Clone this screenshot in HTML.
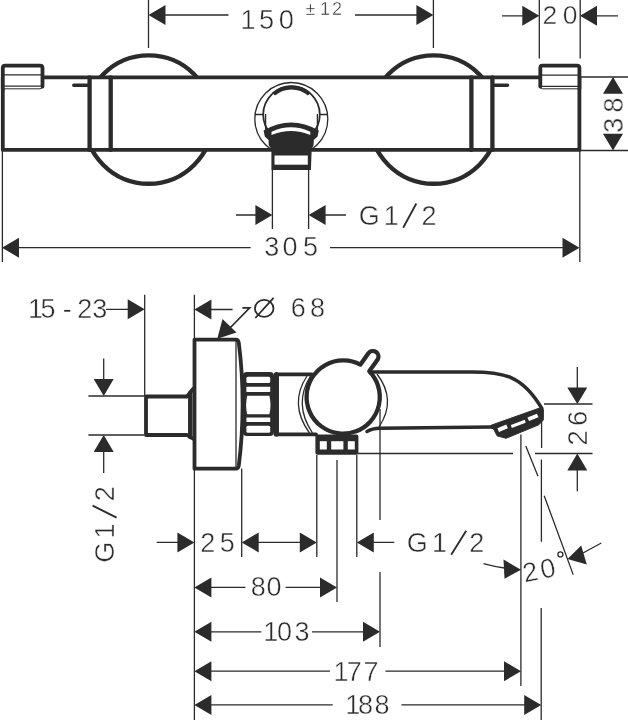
<!DOCTYPE html>
<html><head><meta charset="utf-8">
<style>
html,body{margin:0;padding:0;background:#fff;}
body{width:628px;height:720px;overflow:hidden;font-family:"Liberation Sans",sans-serif;}
svg{display:block;}
text{font-family:"Liberation Sans",sans-serif;fill:#2b2b2b;stroke:#fff;stroke-width:.45;}
.t{stroke:#2b2b2b;stroke-width:1.3;fill:none;}
.k{stroke:#2b2b2b;stroke-width:3.8;fill:none;stroke-linejoin:round;stroke-linecap:round;}
.m{stroke:#2b2b2b;stroke-width:2;fill:none;stroke-linejoin:round;stroke-linecap:round;}
.a{fill:#2b2b2b;stroke:none;}
.w{fill:#fff;}
</style></head><body>
<svg width="628" height="720" viewBox="0 0 628 720">
<rect width="628" height="720" fill="#fff"/>

<!-- ================= TOP VIEW ================= -->
<g id="topview">
<!-- escutcheon circles -->
<circle class="k" cx="148.7" cy="119.6" r="64.2" style="stroke-width:4.4"/>
<circle class="k" cx="433.8" cy="119.6" r="64.2" style="stroke-width:4.4"/>
<!-- body -->
<rect class="k w" x="2.8" y="77.3" width="576.6" height="72.6"/>
<!-- knobs -->
<path class="k w" d="M2.8 89 V68 Q2.8 65.6 5.2 65.6 H40.1 Q42.5 65.6 42.5 68 V86.5"/>
<path class="t" style="stroke-width:1.3" d="M4 74.8 H41.5 M4 86.2 H41.5"/><path class="t" style="stroke-width:1" d="M4 88.8 H40 Q42.8 88.6 43.4 86"/>
<path class="k w" d="M540.3 86.5 V68 Q540.3 65.6 542.4 65.6 H577 Q579.4 65.6 579.4 68 V89"/>
<path class="t" style="stroke-width:1.3" d="M541 75.2 H578.5 M541 86.4 H578.5"/><path class="t" style="stroke-width:1" d="M578.5 88.8 H542.5 Q539.8 88.6 539.3 86"/>
<!-- dividers -->
<path class="k" style="stroke-width:4.3" d="M89.6 77.3 V149.9 M110.7 77.3 V149.9 M471.4 77.3 V149.9 M492.4 77.3 V149.9"/>
<path class="k" style="stroke-width:3.5" d="M73.8 85.2 H89 M493 85.2 H507.5"/>
</g>

<!-- hose connector -->
<g id="hose">
<circle class="t" cx="291.3" cy="119" r="36.5" fill="#fff"/>
<circle class="m" cx="291.5" cy="114.6" r="28.3" style="stroke-width:1.8"/>
<path class="t" d="M254.8 114.5 H263.5 M319.5 114.5 H327.8 M265.6 114 V130 M317.4 114 V130"/>
<path d="M273.6 94 A27.3 27.3 0 0 1 309.4 94" style="stroke:#2b2b2b;stroke-width:4.2;fill:none"/>
<path class="a" d="M263.6 130.5 Q291 114.5 318.8 130.5 L317.6 136.6 L313.8 140 L313.6 145 L311.7 149 L310.9 170 L271.4 170 L271.4 149 L268.7 145 L268.6 140 L264.8 136.6 Z"/>
<path class="w" d="M271.5 131.7 Q291 122.8 310.3 131.7 L310.3 135 Q291 126.8 271.5 135 Z"/>
<rect class="w" x="274.5" y="155.5" width="33.3" height="9.2"/>
</g>

<!-- top view dimension lines -->
<g id="topdims">
<path class="t" d="M148.5 0 V48 M433.4 0 V48 M539.3 0 V58.5 M580.2 0 V58.5"/>
<path class="t" d="M165 15 H228.5 M355 15 H417"/>
<path class="a" d="M148.5 15 L165.5 5 L165.5 25 Z M433.4 15 L416.4 5 L416.4 25 Z"/>
<path class="t" d="M502 15.8 H523 M597 15.8 H618"/>
<path class="a" d="M539.3 15.8 L522.3 5.8 L522.3 25.8 Z M580 15.8 L597 5.8 L597 25.8 Z"/>
<path class="t" d="M580 77 H628 M580 150.5 H628"/>
<path class="a" d="M613 77 L603 93.8 L623 93.8 Z M613 150.5 L603 133.7 L623 133.7 Z"/>
<path class="t" d="M2.4 150 V262 M579.8 150 V262"/>
<path class="t" d="M272.4 170 V229 M308.6 170 V229"/>
<path class="t" d="M236 215 H257 M325 215 H346"/>
<path class="a" d="M272.4 215 L255.4 205 L255.4 225 Z M308.6 215 L325.6 205 L325.6 225 Z"/>
<path class="t" d="M18 247.7 H250.6 M330 247.7 H564"/>
<path class="a" d="M2 247.7 L19 237.7 L19 257.7 Z M579.5 247.7 L562.5 237.7 L562.5 257.7 Z"/>
</g>

<!-- top view text -->
<g id="toptext" opacity="0.999">
<text x="240.4 259.0 278.7" y="28.7" font-size="27.2">150</text>
<text x="305.6 320.1 331.9" y="14.9" font-size="18.0">±12</text>
<text x="542.5 562.7" y="24.0" font-size="26.5">20</text>
<text transform="translate(622.8 0) rotate(-90)" x="-132.9 -112.7" y="0.0" font-size="27.6">38</text>
<text x="358.7 383.8 421.4" y="224.7" font-size="27.0">G12</text>
<path d="M403.2 227.7 L416.3 203.5" style="stroke:#2b2b2b;stroke-width:1.8;fill:none"/>
<text x="264.2 282.6 303.0" y="256.1" font-size="27.0">305</text>
</g>

<!-- ================= SIDE VIEW ================= -->
<g id="sideview">
<!-- pipe stub -->
<path class="k" d="M186 396.5 H146 V435 H186"/>
<path class="k" d="M187 396.5 L193.5 388.5 M187 435 L193.5 439"/>
<path class="k" d="M190.3 393 V437" style="stroke-width:4.5"/>
<!-- flange -->
<path class="k w" d="M194.5 339.6 H236 Q238.3 339.6 238.8 343 Q242.6 372 242.6 404 Q242.6 436 238.8 465.5 Q238.3 468.7 236 468.7 H194.5 Z"/>
<path class="t" d="M236 341 V467"/>
<!-- nut -->
<rect class="a" x="242.8" y="372" width="31.2" height="64" rx="4"/>
<rect class="w" x="246.4" y="376.7" width="23.8" height="6.3" rx="1.5"/>
<rect class="w" x="246.4" y="386.8" width="23.8" height="5.2" rx="0.5"/>
<path class="w" d="M247.2 395.8 H269.4 Q271.6 405 269.4 414.2 H247.2 Q245 405 247.2 395.8 Z"/>
<rect class="w" x="246.4" y="417.4" width="23.8" height="4.6" rx="0.5"/>
<rect class="w" x="246.4" y="425.7" width="23.8" height="7" rx="1.5"/>
<!-- body -->
<path class="k" d="M277 374.4 H312 M277 374.4 V434.3 H316" />
<path class="k" d="M276.3 374.4 V434.3" style="stroke-width:5"/>
<!-- spout -->
<path class="k" style="stroke-width:3.5" d="M369 371.9 H470 C504 371.7 522.6 375.7 541.8 408.4"/>
<path class="k" style="stroke-width:3.5" d="M367 431.5 Q372 428.4 380 428.3 L491.5 427"/>
<!-- aerator -->
<path class="a" d="M490 427.3 L491.2 425.2 L541.9 407.2 L543.4 410 L543.3 420 L538.8 424.8 L506 438.3 L497 435.8 L493.6 429 Z" style="stroke:#2b2b2b;stroke-width:1;stroke-linejoin:round"/>
<path class="w" d="M497.4 428.3 L506.3 424.6 L507.9 428.2 L499 432 Z M510.9 425.1 L524.8 419.8 L525.7 422.7 L511.8 428 Z M527.4 417.4 L536.9 413.7 L538.5 417.3 L529 421 Z"/>
<!-- knob -->
<path class="t" d="M307 376 Q288.5 404 309.5 433 M310.5 376 Q293 404 312.5 433"/>
<path class="t" d="M377 374 Q397 400 379 427"/>
<path class="k w" style="stroke-width:4.3" d="M360.3 364.65 L368.56 353.05 A5.6 5.6 0 0 1 377.64 359.55 L369.25 371.3 A36.6 36.6 0 1 1 360.3 364.65 Z"/>
<!-- bottom hex nut -->
<rect class="a" x="315.4" y="434.5" width="43" height="20.3" rx="2"/>
<rect class="w" x="319.8" y="441.2" width="7" height="8.3"/><rect class="w" x="331.2" y="441.2" width="12.2" height="8.3"/><rect class="w" x="347.8" y="441.2" width="7" height="8.3"/>
</g>

<!-- side view dimension lines -->
<g id="sidedims">
<path class="t" d="M144.7 294.8 V396 M194.4 294.8 V338.5 M194.4 468.5 V720 M241.7 468.5 V557"/>
<path class="t" d="M106 309.3 H128 M211 309.5 H232.6"/><path class="t" style="stroke-width:1.7" d="M242.4 307.8 H249.7 L227 331"/>
<path class="a" d="M144.7 309.3 L127.7 299.3 L127.7 319.3 Z M194.4 309.5 L211.4 299.5 L211.4 319.5 Z"/>
<path class="a" d="M217.3 338.8 L222.5 319 L236.5 332.5 Z"/>
<path class="t" d="M88.4 396 H144 M88.4 435 H144"/>
<path class="t" d="M103.7 358.5 V379 M103.7 452 V473"/>
<path class="a" d="M103.7 396 L93.7 379 L113.7 379 Z M103.7 435 L93.7 452 L113.7 452 Z"/>
<!-- lower verticals -->
<path class="t" d="M316.8 455 V557 M337 460 V602 M356.8 455 V557 M380 409 V520 M380 572 V647"/>
<path class="t" d="M358 453.5 H513 M535 453.5 H592.5 M544 404 H592.5"/>
<path class="t" d="M520.9 434.5 V686 M541.6 420 V448 M541.4 459.5 V541.8 M541.2 608 V720"/>
<path class="t" d="M525.8 446 L538 476.2 M544.2 495.8 L573.2 574.6"/>
<!-- 26 -->
<path class="t" d="M577.3 367 V388.5 M577.3 470 V491.3"/>
<path class="a" d="M577.3 404 L567.3 387.5 L587.3 387.5 Z M577.3 453.5 L567.3 470.5 L587.3 470.5 Z"/>
<!-- 25 row -->
<path class="t" d="M156.7 542.4 H178 M258 542.4 H301 M373 542.4 H394.3"/>
<path class="a" d="M194.4 542.4 L177.4 532.4 L177.4 552.4 Z M241.7 542.4 L258.7 532.4 L258.7 552.4 Z M316.8 542.4 L299.8 532.4 L299.8 552.4 Z M356.8 542.4 L373.8 532.4 L373.8 552.4 Z"/>
<!-- 80 -->
<path class="t" d="M211 587.4 H245.4 M285.6 587.4 H320.5"/>
<path class="a" d="M194.4 587.4 L211.4 577.4 L211.4 597.4 Z M337 587.4 L320 577.4 L320 597.4 Z"/>
<!-- 103 -->
<path class="t" d="M211 631.8 H261.3 M312 631.8 H363.5"/>
<path class="a" d="M194.4 631.8 L211.4 621.8 L211.4 641.8 Z M380 631.8 L363 621.8 L363 641.8 Z"/>
<!-- 177 -->
<path class="t" d="M211 671.2 H330 M385.4 671.2 H504"/>
<path class="a" d="M194.4 671.2 L211.4 661.2 L211.4 681.2 Z M521 671.2 L504 661.2 L504 681.2 Z"/>
<!-- 188 -->
<path class="t" d="M211 704.9 H332.7 M401.4 704.9 H525"/>
<path class="a" d="M194.4 704.9 L211.4 694.9 L211.4 714.9 Z M541.2 704.9 L524.2 694.9 L524.2 714.9 Z"/>
<!-- 20 deg arrows -->
<path class="t" d="M483.5 563.6 Q494 566.5 504.5 568"/>
<path class="a" d="M521 569.7 L503.5 559.6 L504.5 578.8 Z"/>
<path class="t" d="M601.3 543 L583 553"/>
<path class="a" d="M567.5 559 L581.2 545.5 L586.8 564.6 Z"/>
</g>

<!-- side view text -->
<g id="sidetext" opacity="0.999">
<text x="28.0 40.4 62.7 77.3 92.3" y="318.0" font-size="27.0">15-23</text>
<ellipse cx="264.2" cy="308.4" rx="9.3" ry="8.5" style="stroke:#2b2b2b;stroke-width:1.8;fill:none"/><path d="M255.3 318.0 L273.6 297.8" style="stroke:#2b2b2b;stroke-width:1.8;fill:none"/>
<text x="290.8 310.1" y="317.3" font-size="27.0">68</text>
<text transform="translate(113.5 0) rotate(-90)" x="-562.8 -538.6 -501.2" y="0.0" font-size="27.0">G12</text>
<path d="M116.6 517.6 L92.6 505.6" style="stroke:#2b2b2b;stroke-width:1.8;fill:none"/>
<text x="200.2 219.7" y="551.8" font-size="27.0">25</text>
<text x="406.7 431.9 469.2" y="551.8" font-size="27.0">G12</text>
<path d="M451.2 554.7 L466.2 530.7" style="stroke:#2b2b2b;stroke-width:1.8;fill:none"/>
<text x="250.7 266.5" y="596.2" font-size="27.0">80</text>
<text x="263.2 276.9 294.6" y="641.0" font-size="27.0">103</text>
<text x="333.4 346.7 363.5" y="680.8" font-size="27.0">177</text>
<text x="345.2 358.1 374.6" y="714.0" font-size="27.0">188</text>
<text transform="translate(587 0) rotate(-90)" x="-445.4 -426.0" y="0.0" font-size="27.4">26</text>
<text transform="translate(525.6 582.4) rotate(-11.5)" x="-0.9 17.0" y="0.0" font-size="27.0">20</text>
<circle cx="560.4" cy="554.4" r="2.5" style="stroke:#2b2b2b;stroke-width:1.3;fill:none"/>
</g>
</svg>
</body></html>
